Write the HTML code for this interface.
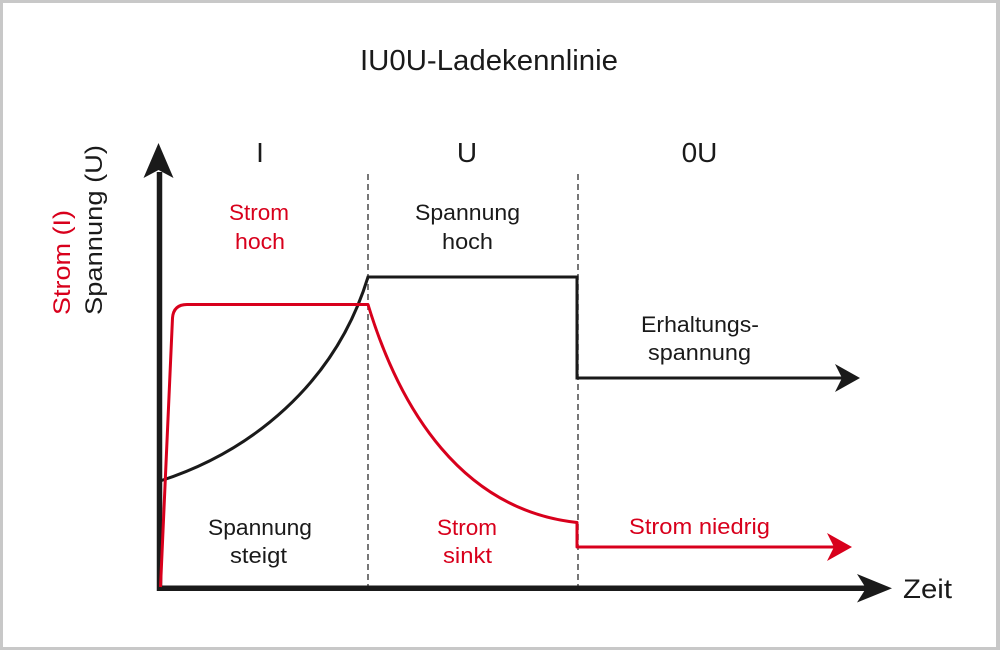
<!DOCTYPE html>
<html><head><meta charset="utf-8"><style>
html,body{margin:0;padding:0;background:#fff;}
svg{display:block;}
text{font-family:"Liberation Sans",sans-serif;}
</style></head><body>
<svg width="1000" height="650" viewBox="0 0 1000 650" xmlns="http://www.w3.org/2000/svg">
<rect x="0" y="0" width="1000" height="650" fill="#c8c8c8"/>
<rect x="3" y="3" width="993" height="644" fill="#ffffff"/>

<!-- title -->
<text x="360" y="70" font-size="29" fill="#1a1a1a" textLength="258" lengthAdjust="spacingAndGlyphs">IU0U-Ladekennlinie</text>

<!-- section headers -->
<text x="260" y="162" font-size="28" fill="#1a1a1a" text-anchor="middle">I</text>
<text x="467" y="162" font-size="28" fill="#1a1a1a" text-anchor="middle">U</text>
<text x="699.5" y="162" font-size="28" fill="#1a1a1a" text-anchor="middle">0U</text>

<!-- dashed separators -->
<line x1="368" y1="174" x2="368" y2="588" stroke="#555" stroke-width="1.6" stroke-dasharray="6,4"/>
<line x1="578" y1="174" x2="578" y2="588" stroke="#555" stroke-width="1.6" stroke-dasharray="6,4"/>

<!-- axes -->
<line x1="159.5" y1="172" x2="159.5" y2="591" stroke="#1a1a1a" stroke-width="5.5"/>
<path d="M158.5,143 L173.5,178 L158.5,170 L143.5,178 Z" fill="#1a1a1a"/>
<line x1="157" y1="588.3" x2="866" y2="588.3" stroke="#1a1a1a" stroke-width="5.5"/>
<path d="M892,588.3 L857,574 L866,588.3 L857,602.5 Z" fill="#1a1a1a"/>

<!-- voltage curve (black) -->
<path d="M160,481 C250,452 335,385 368,277 L577,277 L577,378 L843,378" fill="none" stroke="#1a1a1a" stroke-width="3"/>
<path d="M860,378 L835,364 L842,378 L835,392 Z" fill="#1a1a1a"/>

<!-- current curve (red) -->
<path d="M160.5,587 L172.5,318 Q173.5,304.5 187,304.5 L368,304.5 C400,410 462,510 577,522.5 L577,547 L835,547" fill="none" stroke="#d8001c" stroke-width="3" stroke-linejoin="round"/>
<path d="M852,547 L827,533 L834,547 L827,561 Z" fill="#d8001c"/>

<!-- axis labels -->
<text transform="translate(102,315) rotate(-90)" font-size="24" fill="#1a1a1a" textLength="170" lengthAdjust="spacingAndGlyphs">Spannung (U)</text>
<text transform="translate(70,315) rotate(-90)" font-size="24" fill="#d8001c" textLength="105" lengthAdjust="spacingAndGlyphs">Strom (I)</text>
<text x="903" y="598" font-size="27" fill="#1a1a1a" textLength="49" lengthAdjust="spacingAndGlyphs">Zeit</text>

<!-- phase I labels -->
<text x="229" y="220" font-size="22" fill="#d8001c" textLength="60" lengthAdjust="spacingAndGlyphs">Strom</text>
<text x="235" y="249" font-size="22" fill="#d8001c" textLength="50" lengthAdjust="spacingAndGlyphs">hoch</text>
<text x="208" y="535" font-size="22" fill="#1a1a1a" textLength="104" lengthAdjust="spacingAndGlyphs">Spannung</text>
<text x="230" y="563" font-size="22" fill="#1a1a1a" textLength="57" lengthAdjust="spacingAndGlyphs">steigt</text>

<!-- phase U labels -->
<text x="415" y="220" font-size="22" fill="#1a1a1a" textLength="105" lengthAdjust="spacingAndGlyphs">Spannung</text>
<text x="442" y="249" font-size="22" fill="#1a1a1a" textLength="51" lengthAdjust="spacingAndGlyphs">hoch</text>
<text x="437" y="535" font-size="22" fill="#d8001c" textLength="60" lengthAdjust="spacingAndGlyphs">Strom</text>
<text x="443" y="563" font-size="22" fill="#d8001c" textLength="49" lengthAdjust="spacingAndGlyphs">sinkt</text>

<!-- phase 0U labels -->
<text x="641" y="332" font-size="22" fill="#1a1a1a" textLength="118" lengthAdjust="spacingAndGlyphs">Erhaltungs-</text>
<text x="648" y="360" font-size="22" fill="#1a1a1a" textLength="103" lengthAdjust="spacingAndGlyphs">spannung</text>
<text x="629" y="534" font-size="22" fill="#d8001c" textLength="141" lengthAdjust="spacingAndGlyphs">Strom niedrig</text>
</svg>
</body></html>
